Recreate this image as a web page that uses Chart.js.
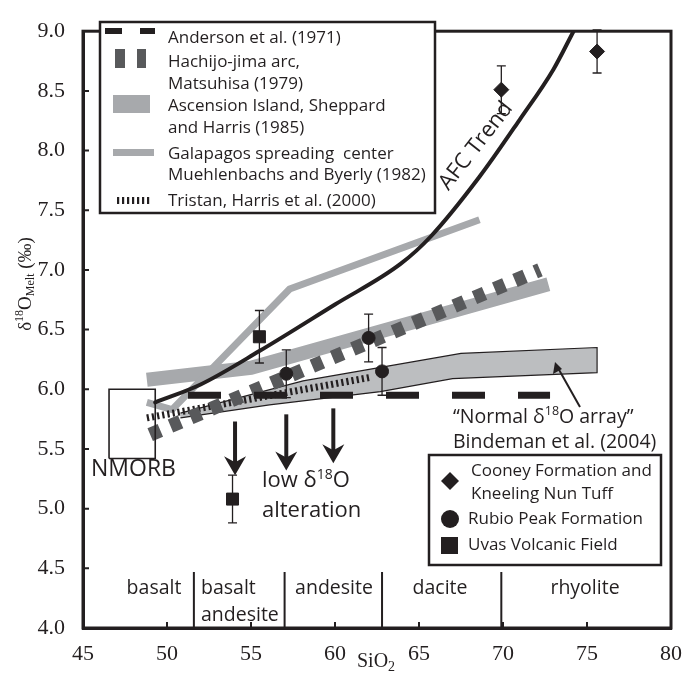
<!DOCTYPE html>
<html>
<head>
<meta charset="utf-8">
<script src="https://cdn.jsdelivr.net/npm/chart.js@4.4.0/dist/chart.umd.min.js"></script>
<style>
  html, body { margin: 0; padding: 0; background: #fff; }
</style>
</head>
<body>
<canvas id="chart" width="696" height="679"></canvas>
<script>
// ---- values ----
const xMin = 45, xMax = 80, xStep = 5;
const yMin = 4.0, yMax = 9.0, yStep = 0.5;

// samples
const cooneyX = [69.9, 75.6];
const cooneyY = [8.51, 8.83];
const cooneyErr = [0.2, 0.18];
const rubioX = [57.1, 62.0, 62.8];
const rubioY = [6.13, 6.43, 6.15];
const rubioErr = [0.2, 0.2, 0.2];
const uvasX = [55.5, 53.9];
const uvasY = [6.44, 5.08];
const uvasErr = [0.22, 0.2];

// reference trends
const afcX = [49.3, 52, 55.5, 60, 63.9, 65.7, 68.6, 71, 73, 74.2];
const afcY = [5.89, 6.04, 6.32, 6.71, 7.05, 7.28, 7.78, 8.26, 8.68, 9.0];
const andersonX = [51.25, 72.8];
const andersonY = [5.95, 5.95];
const hachijoX = [49.0, 72.2];
const hachijoY = [5.62, 7.0];
const ascensionX = [48.8, 55.0, 72.7];
const ascensionY = [6.08, 6.18, 6.88];
const galapagosX = [48.8, 50.3, 57.3, 68.6];
const galapagosY = [5.89, 5.83, 6.84, 7.42];
const tristanX = [48.8, 62.1];
const tristanY = [5.76, 6.1];
// "normal" array polygon: upper edge left->right, then lower edge right->left
const normalX = [50.8, 58.1, 67.5, 75.6, 75.6, 67.0, 62.7, 56.1, 50.8];
const normalY = [5.80, 6.07, 6.30, 6.35, 6.14, 6.09, 5.98, 5.87, 5.76];
const nmorbX = [46.55, 49.3];
const nmorbY = [5.42, 6.0];

// low d18O alteration arrows
const arrowX = [54.05, 57.1, 59.9];
const arrowTop = [5.73, 5.79, 5.84];
const arrowTip = [5.28, 5.32, 5.38];

// rock type divisions
const rockBounds = [51.6, 57.0, 62.8, 69.9];
const rockTop = 4.47;

const INK = '#231f20';
const LIGHT = '#a7a9ac';
const FILLG = '#bcbec0';
const DARK = '#58595b';
const SANS = '"Open Sans", sans-serif';
const SERIF = '"Liberation Serif", serif';

const pts = (xs, ys) => xs.map((x, i) => ({ x: x, y: ys[i] }));

// rich text helper: parts = [text, size, dy]
function richWidth(ctx, parts, family) {
    let w = 0;
    parts.forEach(p => { ctx.font = p[1] + 'px ' + family; w += ctx.measureText(p[0]).width; });
    return w;
}
function drawRich(ctx, parts, x, y, family) {
    let cx = x;
    parts.forEach(p => {
        ctx.font = p[1] + 'px ' + family;
        ctx.fillText(p[0], cx, y + (p[2] || 0));
        cx += ctx.measureText(p[0]).width;
    });
}

const decor = {
    id: 'decor',
    beforeDatasetDraw(chart, args) {
        // error bars go just under the first marker dataset
        if (chart.data.datasets[args.index].key !== 'cooney') return;
        const ctx = chart.ctx, X = chart.scales.x, Y = chart.scales.y;
        const sets = [[cooneyX, cooneyY, cooneyErr], [rubioX, rubioY, rubioErr], [uvasX, uvasY, uvasErr]];
        ctx.save();
        ctx.strokeStyle = INK;
        ctx.lineWidth = 1.3;
        sets.forEach(s => {
            s[0].forEach((v, i) => {
                const x = X.getPixelForValue(v);
                const y1 = Y.getPixelForValue(s[1][i] + s[2][i]);
                const y2 = Y.getPixelForValue(s[1][i] - s[2][i]);
                ctx.beginPath();
                ctx.moveTo(x, y1); ctx.lineTo(x, y2);
                ctx.moveTo(x - 4.5, y1); ctx.lineTo(x + 4.5, y1);
                ctx.moveTo(x - 4.5, y2); ctx.lineTo(x + 4.5, y2);
                ctx.stroke();
            });
        });
        ctx.restore();
    },
    afterDraw(chart) {
        const ctx = chart.ctx, X = chart.scales.x, Y = chart.scales.y, a = chart.chartArea;
        ctx.save();
        ctx.fillStyle = INK;
        ctx.strokeStyle = INK;

        // frame
        ctx.lineWidth = 3;
        ctx.strokeRect(a.left, a.top, a.right - a.left, a.bottom - a.top);

        // inner ticks
        ctx.lineWidth = 2;
        ctx.beginPath();
        for (let v = xMin + xStep; v < xMax; v += xStep) {
            const x = X.getPixelForValue(v);
            ctx.moveTo(x, a.bottom); ctx.lineTo(x, a.bottom - 6);
        }
        for (let v = yMin + yStep; v < yMax - 0.01; v += yStep) {
            const y = Y.getPixelForValue(v);
            ctx.moveTo(a.left, y); ctx.lineTo(a.left + 6, y);
        }
        ctx.stroke();

        // rock type dividers
        ctx.lineWidth = 2;
        ctx.beginPath();
        rockBounds.forEach(v => {
            const x = X.getPixelForValue(v);
            ctx.moveTo(x, a.bottom); ctx.lineTo(x, Y.getPixelForValue(rockTop));
        });
        ctx.stroke();

        ctx.textBaseline = 'middle';
        ctx.font = '19.5px ' + SANS;
        ctx.textAlign = 'center';
        ctx.fillText('basalt', 154, 588);
        ctx.fillText('andesite', 334, 588);
        ctx.fillText('dacite', 440, 588);
        ctx.fillText('rhyolite', 585, 588);
        ctx.textAlign = 'left';
        ctx.fillText('basalt', 201, 588);
        ctx.fillText('andesite', 201, 615);

        // alteration arrows
        arrowX.forEach((v, i) => {
            const x = X.getPixelForValue(v);
            const yt = Y.getPixelForValue(arrowTop[i]);
            const yp = Y.getPixelForValue(arrowTip[i]);
            ctx.lineWidth = 4;
            ctx.beginPath();
            ctx.moveTo(x, yt); ctx.lineTo(x, yp - 12);
            ctx.stroke();
            ctx.beginPath();
            ctx.moveTo(x, yp);
            ctx.lineTo(x - 11, yp - 19);
            ctx.lineTo(x, yp - 13);
            ctx.lineTo(x + 11, yp - 19);
            ctx.closePath();
            ctx.fill();
        });

        // annotations
        ctx.textAlign = 'left';
        ctx.font = '23px ' + SANS;
        ctx.fillText('NMORB', 91, 469);
        drawRich(ctx, [['low δ', 22], ['18', 14, -6], ['O', 22]], 262, 481, SANS);
        ctx.font = '22px ' + SANS;
        ctx.fillText('alteration', 262, 511);

        const n1 = [['“Normal δ', 19.5], ['18', 12.5, -6], ['O array”', 19.5]];
        drawRich(ctx, n1, 453, 417, SANS);
        ctx.font = '19.5px ' + SANS;
        ctx.fillText('Bindeman et al. (2004)', 453, 442);
        // pointer arrow to the polygon
        ctx.lineWidth = 2;
        ctx.beginPath();
        ctx.moveTo(580, 407); ctx.lineTo(558, 368);
        ctx.stroke();
        ctx.beginPath();
        ctx.moveTo(555, 362); ctx.lineTo(553, 374); ctx.lineTo(562, 369); ctx.closePath();
        ctx.fill();

        // AFC label along the curve
        ctx.save();
        ctx.translate(476, 146);
        ctx.rotate(-52 * Math.PI / 180);
        ctx.textAlign = 'center';
        ctx.font = '22px ' + SANS;
        ctx.fillText('AFC Trend', 0, 0);
        ctx.restore();

        // axis titles
        ctx.save();
        ctx.translate(26, 284);
        ctx.rotate(-Math.PI / 2);
        const yt = [['δ', 19], ['18', 12, -6], ['O', 19], ['Melt', 12, 5], [' (‰)', 19]];
        drawRich(ctx, yt, -richWidth(ctx, yt, SERIF) / 2, 0, SERIF);
        ctx.restore();
        drawRich(ctx, [['SiO', 20], ['2', 14, 5]], 357, 662, SERIF);

        // legend 1 (reference trends)
        ctx.fillStyle = '#fff';
        ctx.fillRect(100, 22, 335, 191);
        ctx.lineWidth = 2.5;
        ctx.strokeRect(100, 22, 335, 191);
        ctx.fillStyle = INK;
        ctx.fillRect(105, 28, 17, 6);
        ctx.fillRect(140, 28, 15, 6);
        ctx.fillStyle = DARK;
        ctx.fillRect(115, 49, 10, 19);
        ctx.fillRect(137, 49, 9, 19);
        ctx.fillStyle = LIGHT;
        ctx.fillRect(113, 95, 37, 18);
        ctx.fillRect(113, 149, 41, 7);
        ctx.fillStyle = INK;
        for (let x = 117; x < 152; x += 5) ctx.fillRect(x, 197, 2.2, 7);
        ctx.font = '17px ' + SANS;
        ctx.textAlign = 'left';
        const l1 = [['Anderson et al. (1971)', 38], ['Hachijo-jima arc,', 62], ['Matsuhisa (1979)', 84],
                    ['Ascension Island, Sheppard', 106], ['and Harris (1985)', 128],
                    ['Galapagos spreading  center', 154], ['Muehlenbachs and Byerly (1982)', 175],
                    ['Tristan, Harris et al. (2000)', 201]];
        l1.forEach(l => ctx.fillText(l[0], 168, l[1]));

        // legend 2 (samples)
        ctx.fillStyle = '#fff';
        ctx.fillRect(429, 455, 232, 110);
        ctx.strokeRect(429, 455, 232, 110);
        ctx.fillStyle = INK;
        ctx.beginPath();
        ctx.moveTo(450, 472); ctx.lineTo(459, 481); ctx.lineTo(450, 490); ctx.lineTo(441, 481);
        ctx.closePath(); ctx.fill();
        ctx.beginPath();
        ctx.arc(450, 519, 9, 0, Math.PI * 2); ctx.fill();
        ctx.fillRect(441, 537, 17, 17);
        ctx.font = '17px ' + SANS;
        ctx.fillText('Cooney Formation and', 471, 471);
        ctx.fillText('Kneeling Nun Tuff', 471, 494);
        ctx.fillText('Rubio Peak Formation', 468, 519);
        ctx.fillText('Uvas Volcanic Field', 468, 545);

        ctx.restore();
    }
};

const lineSet = (key, xs, ys, extra) => Object.assign({
    key: key, data: pts(xs, ys), showLine: true, pointRadius: 0,
    fill: false, borderCapStyle: 'butt', borderJoinStyle: 'miter', tension: 0
}, extra);

new Chart(document.getElementById('chart'), {
    type: 'scatter',
    data: {
        datasets: [
            lineSet('normal', normalX, normalY, { order: 20, borderColor: INK, borderWidth: 1.2, backgroundColor: FILLG, fill: 'shape' }),
            lineSet('ascension', ascensionX, ascensionY, { order: 19, borderColor: LIGHT, borderWidth: 14 }),
            lineSet('galapagos', galapagosX, galapagosY, { order: 18, borderColor: LIGHT, borderWidth: 7 }),
            lineSet('tristan', tristanX, tristanY, { order: 17, borderColor: INK, borderWidth: 7, borderDash: [2.2, 3] }),
            lineSet('hachijo', hachijoX, hachijoY, { order: 16, borderColor: DARK, borderWidth: 14, borderDash: [11, 11] }),
            lineSet('anderson', andersonX, andersonY, { order: 15, borderColor: INK, borderWidth: 7, borderDash: [33, 33] }),
            lineSet('afc', afcX, afcY, { order: 14, borderColor: INK, borderWidth: 4, cubicInterpolationMode: 'monotone', borderCapStyle: 'round' }),
            lineSet('nmorb', [nmorbX[0], nmorbX[1], nmorbX[1], nmorbX[0], nmorbX[0]],
                    [nmorbY[0], nmorbY[0], nmorbY[1], nmorbY[1], nmorbY[0]], { order: 13, borderColor: INK, borderWidth: 1.6 }),
            { key: 'cooney', order: 3, data: pts(cooneyX, cooneyY), pointStyle: 'rectRot', pointRadius: 7.5, backgroundColor: INK, borderColor: INK, borderWidth: 1 },
            { key: 'rubio', order: 2, data: pts(rubioX, rubioY), pointStyle: 'circle', pointRadius: 6.5, backgroundColor: INK, borderColor: INK, borderWidth: 1 },
            { key: 'uvas', order: 1, data: pts(uvasX, uvasY), pointStyle: 'rect', pointRadius: 8.5, backgroundColor: INK, borderColor: INK, borderWidth: 1 }
        ]
    },
    options: {
        responsive: false,
        animation: false,
        layout: { padding: { top: 17, right: 25, left: 0, bottom: 0 } },
        plugins: { legend: { display: false }, tooltip: { enabled: false } },
        scales: {
            x: {
                type: 'linear', min: xMin, max: xMax,
                afterFit: s => { s.height = 51; },
                ticks: { stepSize: xStep, padding: 13, color: INK, font: { family: SERIF, size: 22 } },
                grid: { drawOnChartArea: false, drawTicks: false },
                border: { display: true, width: 3, color: INK }
            },
            y: {
                type: 'linear', min: yMin, max: yMax,
                afterFit: s => { s.width = 83; },
                ticks: { stepSize: yStep, padding: 18, color: INK, font: { family: SERIF, size: 22 },
                         callback: v => v.toFixed(1) },
                grid: { drawOnChartArea: false, drawTicks: false },
                border: { display: true, width: 3, color: INK }
            }
        }
    },
    plugins: [decor]
});
</script>
</body>
</html>
